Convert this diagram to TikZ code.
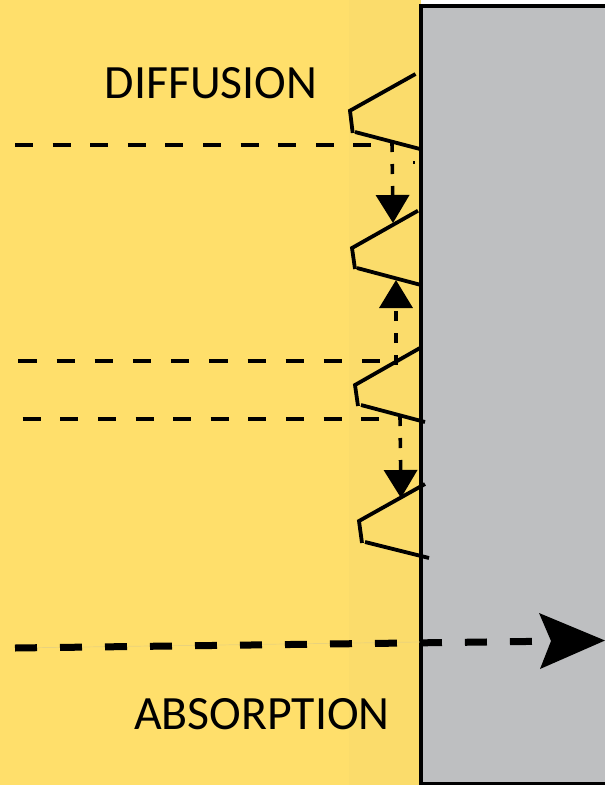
\documentclass[tikz,border=0pt]{standalone}
\usepackage{fontspec}
\setmainfont{Carlito}
\usetikzlibrary{arrows.meta}
\definecolor{bandA}{HTML}{FFDF6B}
\definecolor{bandB}{HTML}{FBDC6B}
\definecolor{wallgray}{HTML}{BEBFC1}
\definecolor{faint}{HTML}{E9D27C}
\tikzset{
  px/.style={x=1pt,y=-1pt},
  wall/.style={draw=black,line width=4pt,fill=wallgray},
  tooth/.style={draw=black,line width=3.8pt,line join=miter},
  refl/.style={draw=black,line width=3.4pt,dash pattern=on 18pt off 19.6pt},
  drop/.style={draw=black,line width=3.6pt,dash pattern=on 10pt off 12pt,
     -{Triangle[length=28pt,width=33pt,sep=0pt]}},
  absorb/.style={draw=black,line width=7pt,dash pattern=on 22pt off 23pt},
  label/.style={font=\fontsize{47.8pt}{47.8pt}\selectfont,text=black,inner sep=0pt},
}
\begin{document}
\begin{tikzpicture}[px]
\useasboundingbox (0,0) rectangle (605,785);
\fill[bandA] (0,0) rectangle (349,785);
\fill[bandB] (349,0) rectangle (421,785);
\draw[wall] (421,6.3) rectangle (612,783.5);
% named points
\coordinate (a1) at (15,145);   \coordinate (a2) at (372,145);
\coordinate (b1) at (18.3,361); \coordinate (b2) at (381,361);
\coordinate (c1) at (22.7,419); \coordinate (c2) at (380,419);
\coordinate (d1) at (392,142);  \coordinate (d2) at (393,223);
\coordinate (e1) at (396,365);  \coordinate (e2) at (396,280);
\coordinate (f1) at (400,416);  \coordinate (f2) at (401,498);
\coordinate (g1) at (15,648);   \coordinate (g2) at (533,641.4);
\coordinate (h1) at (605,640.5);\coordinate (h2) at (539,613);
\coordinate (h3) at (551,641);  \coordinate (h4) at (540,669);
% teeth
\draw[tooth] (415.5,74) -- (350,110.7) -- (352.7,133);
\draw[tooth] (355,132) -- (420,149);
\draw[tooth] (418,210.7) -- (352,248) -- (355,269);
\draw[tooth] (357,268) -- (421,285);
\draw[tooth] (420,348) -- (355,385) -- (358,406);
\draw[tooth] (361,405) -- (425,422);
\draw[tooth] (425,484) -- (359,521) -- (362,543);
\draw[tooth] (365,542) -- (429,558);
\fill[black] (413,160.5) rectangle (414.6,163.5);
% dashed rays
\draw[refl] (a1) -- (a2);
\draw[refl,dash pattern=on 18.3pt off 19.9pt] (b1) -- (b2);
\draw[refl] (c1) -- (c2);
\draw[drop] (d1) -- (d2);
\draw[drop] (e1) -- (e2);
\draw[drop] (f1) -- (f2);
% absorbed ray
\draw[faint,line width=0.7pt] (g1) -- (421,642);
\draw[absorb] (g1) -- (g2);
\fill[black] (h1) -- (h2) -- (h3) -- (h4) -- cycle;
% labels
\node[label] (diff) at (211,83) {DIFFUSION};
\node[label] (abs) at (262,714) {ABSORPTION};
\end{tikzpicture}
\end{document}
